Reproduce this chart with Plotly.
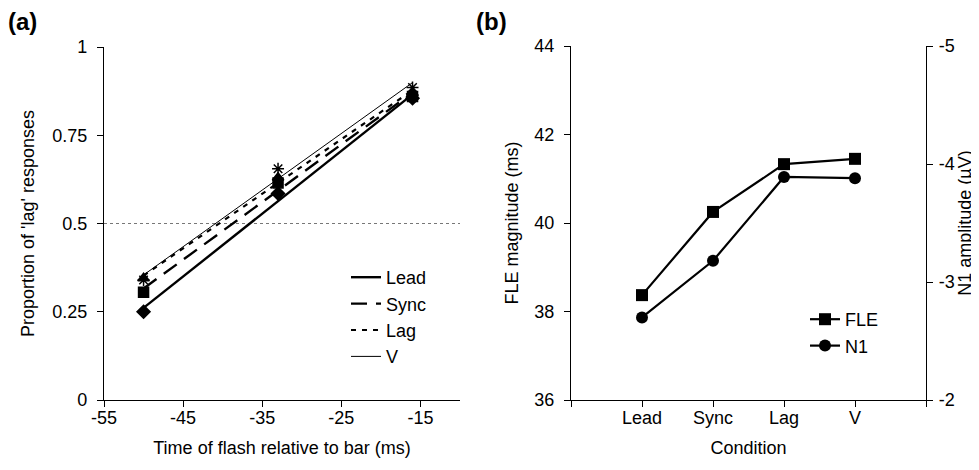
import numpy as np
import plotly.graph_objects as go

# ---------------- Panel (a) data ----------------
FLASH_TIMES = [-50, -33, -16]
LEAD_PROP = [0.25, 0.585, 0.855]
SYNC_PROP = [0.305, 0.615, 0.86]
LAG_PROP = [0.345, 0.63, 0.87]
V_PROP = [0.34, 0.655, 0.885]
SERIES_A = ["Lead", "Sync", "Lag", "V"]
CHANCE = 0.5
X_TICKS_A = [-55, -45, -35, -25, -15]
X_TICKTEXT_A = ["-55", "-45", "-35", "-25", "-15"]
Y_TICKS_A = [0, 0.25, 0.5, 0.75, 1]
Y_TICKTEXT_A = ["0", "0.25", "0.5", "0.75", "1"]

# ---------------- Panel (b) data ----------------
CONDITIONS = ["Lead", "Sync", "Lag", "V"]
FLE_MS = [38.37, 40.25, 41.33, 41.45]
N1_UV = [-2.70, -3.18, -3.89, -3.88]
Y_TICKS_B = [36, 38, 40, 42, 44]
Y_TICKS_B2 = [-5, -4, -3, -2]
Y_TICKTEXT_B2 = ["-5", "-4", "-3", "-2"]

FONT = "Liberation Sans, Arial, sans-serif"
BLACK = "#000000"

fig = go.Figure()

styles = {
    "Lead": dict(dash="solid", width=2.4),
    "Sync": dict(dash="16px,9px", width=2.4),
    "Lag": dict(dash="5px,6px", width=2.2),
    "V": dict(dash="solid", width=1.0),
}
symbols = {"Lead": "diamond", "Sync": "square", "Lag": "triangle-up", "V": "asterisk-open"}
msize = {"Lead": 10, "Sync": 10, "Lag": 10, "V": 10}
data_a = {"Lead": LEAD_PROP, "Sync": SYNC_PROP, "Lag": LAG_PROP, "V": V_PROP}

# markers (data points)
for name in SERIES_A:
    fig.add_trace(go.Scatter(
        x=FLASH_TIMES, y=data_a[name], mode="markers", showlegend=False,
        marker=dict(symbol=symbols[name], size=msize[name], color=BLACK,
                    line=dict(color=BLACK, width=1.5)),
        xaxis="x", yaxis="y", hoverinfo="skip"))

# linear fits (trend lines) with legend
for name in SERIES_A:
    slope, icpt = np.polyfit(FLASH_TIMES, data_a[name], 1)
    xs = [min(FLASH_TIMES), max(FLASH_TIMES)]
    ys = [slope * v + icpt for v in xs]
    fig.add_trace(go.Scatter(
        x=xs, y=ys, mode="lines", name=name, legend="legend",
        line=dict(color=BLACK, **styles[name]),
        xaxis="x", yaxis="y"))

# chance level dotted line
fig.add_shape(type="line", xref="x", yref="y", x0=-55, x1=-10, y0=CHANCE, y1=CHANCE,
              line=dict(color="#777777", width=1, dash="dot"), layer="below")

# ---------------- Panel (b) traces ----------------
cond_pos = [i + 1 for i in range(len(CONDITIONS))]
fig.add_trace(go.Scatter(
    x=cond_pos, y=FLE_MS, mode="lines+markers", name="FLE", legend="legend2",
    line=dict(color=BLACK, width=2.2),
    marker=dict(symbol="square", size=12, color=BLACK),
    xaxis="x2", yaxis="y2"))
fig.add_trace(go.Scatter(
    x=cond_pos, y=N1_UV, mode="lines+markers", name="N1", legend="legend2",
    line=dict(color=BLACK, width=2.2),
    marker=dict(symbol="circle", size=12, color=BLACK),
    xaxis="x2", yaxis="y3"))

axis_common = dict(showline=True, linecolor=BLACK, linewidth=1.3, ticks="outside",
                   ticklen=6, tickwidth=1.3, tickcolor=BLACK, showgrid=False,
                   zeroline=False, tickfont=dict(size=18, color=BLACK, family=FONT),
                   title_font=dict(size=18, color=BLACK, family=FONT))

L, R, T, B = 96, 61, 38, 78
W, H = 979, 470
PW, PH = W - L - R, H - T - B

def px(xp):
    return (xp - L) / PW

def py(yp):
    return 1 - (yp - T) / PH

fig.update_layout(
    width=W, height=H,
    margin=dict(l=L, r=R, t=T, b=B, pad=0),
    paper_bgcolor="white", plot_bgcolor="white",
    font=dict(family=FONT, size=18, color=BLACK),
    xaxis=dict(domain=[0, px(452)], range=[-55, -10], tickvals=X_TICKS_A,
               ticktext=X_TICKTEXT_A, ticklabelstandoff=-5,
               title=dict(text="Time of flash relative to bar (ms)", standoff=14),
               anchor="y", **axis_common),
    yaxis=dict(domain=[0, py(39)], range=[0, 1], tickvals=Y_TICKS_A, ticktext=Y_TICKTEXT_A,
               ticklabelstandoff=6,
               title=dict(text="Proportion of 'lag' responses", standoff=12),
               anchor="x", **axis_common),
    xaxis2=dict(domain=[px(563), 1], range=[0, len(CONDITIONS) + 1],
                tickvals=list(range(0, len(CONDITIONS) + 2)),
                ticktext=[""] + CONDITIONS + [""], ticklabelstandoff=-5,
                title=dict(text="Condition", standoff=14),
                anchor="y2", **axis_common),
    yaxis2=dict(domain=[0, 1], range=[36, 44], tickvals=Y_TICKS_B,
                ticklabelstandoff=6,
                title=dict(text="FLE magnitude (ms)", standoff=10),
                anchor="x2", **axis_common),
    yaxis3=dict(range=[-2, -5], tickvals=Y_TICKS_B2, ticktext=Y_TICKTEXT_B2,
                overlaying="y2", side="right", ticklabelstandoff=2,
                title=dict(text="N1 amplitude (µV)", standoff=0),
                anchor="x2", **axis_common),
    legend=dict(x=px(338), y=py(251), xanchor="left", yanchor="top",
                bgcolor="rgba(0,0,0,0)", font=dict(size=18, family=FONT, color=BLACK),
                itemwidth=30, tracegroupgap=0),
    legend2=dict(x=px(797), y=py(293), xanchor="left", yanchor="top",
                 bgcolor="rgba(0,0,0,0)", font=dict(size=18, family=FONT, color=BLACK),
                 itemwidth=30, tracegroupgap=0),
    annotations=[
        dict(text="<b>(a)</b>", xref="paper", yref="paper", x=px(-2), y=py(14),
             xanchor="left", yanchor="middle", showarrow=False,
             font=dict(size=24, family=FONT, color=BLACK)),
        dict(text="<b>(b)</b>", xref="paper", yref="paper", x=px(466), y=py(14),
             xanchor="left", yanchor="middle", showarrow=False,
             font=dict(size=24, family=FONT, color=BLACK)),
    ],
)

fig.write_html("out.html")
